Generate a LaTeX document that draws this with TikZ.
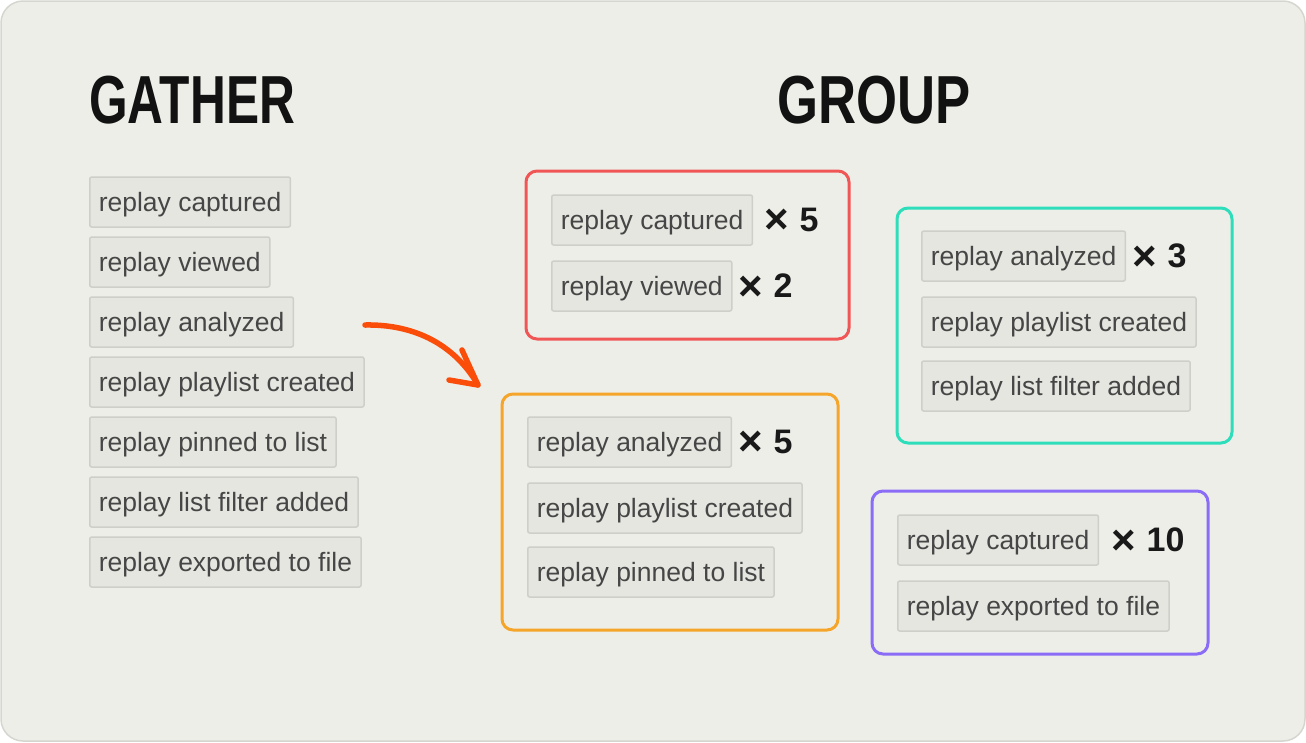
\documentclass[tikz,border=0pt]{standalone}
\usepackage{fontspec}
\setmainfont{Liberation Sans}
\definecolor{bgc}{HTML}{EEEEE9}
\definecolor{bgline}{HTML}{D6D6D0}
\definecolor{tagfill}{HTML}{E6E6E1}
\definecolor{tagline}{HTML}{CFCFCA}
\definecolor{tagtext}{HTML}{464646}
\definecolor{redc}{HTML}{F05656}
\definecolor{tealc}{HTML}{2EDDBA}
\definecolor{orangec}{HTML}{F4A52A}
\definecolor{purplec}{HTML}{8A6CF7}
\definecolor{arrowc}{HTML}{FA4D0A}
\newcommand{\timesmark}{\raisebox{-2.5pt}{\fontsize{42}{42}\selectfont\bfseries ×}\hspace*{11pt}}
\tikzset{
  tag/.style={draw=tagline, fill=tagfill, line width=1.5pt, rounded corners=2pt,
    anchor=west, minimum height=50pt, inner xsep=9pt, inner ysep=0pt,
    text height=25pt, text depth=6pt,
    text=tagtext, font=\fontsize{26.5}{26.5}\selectfont},
  mult/.style={anchor=west, inner sep=0pt, text=black!90,
    font=\fontsize{34}{34}\selectfont\bfseries},
  heading/.style={anchor=base west, inner sep=0pt, text=black!93,
    font=\fontsize{68}{68}\selectfont\bfseries},
  group/.style={line width=3pt, rounded corners=11pt},
}
\begin{document}
\begin{tikzpicture}[x=1pt,y=-1pt]
\useasboundingbox (0,0) rectangle (1306,742);
\fill[bgc, draw=bgline, line width=1.5pt, rounded corners=22pt] (1,1) rectangle (1305,741);

% headings
\node[heading] (gather) at (89,123) {\scalebox{0.73}[1]{GATHER}};
\node[heading] (grp) at (777,123) {\scalebox{0.775}[1]{GROUP}};

% left list
\node[tag] (l1) at (89,202) {replay captured};
\node[tag] (l2) at (89,262) {replay viewed};
\node[tag] (l3) at (89,322) {replay analyzed};
\node[tag] (l4) at (89,382) {replay playlist created};
\node[tag] (l5) at (89,442) {replay pinned to list};
\node[tag] (l6) at (89,502) {replay list filter added};
\node[tag] (l7) at (89,562) {replay exported to file};

% red group
\draw[group, draw=redc] (526,171) rectangle (849,339);
\node[tag] (r1) at (551,220) {replay captured};
\node[mult] (r1m) at (764,221) {\timesmark 5};
\node[tag] (r2) at (551,286) {replay viewed};
\node[mult] (r2m) at (738,287) {\timesmark 2};

% teal group
\draw[group, draw=tealc] (897,208) rectangle (1232,443);
\node[tag] (t1) at (921,256) {replay analyzed};
\node[mult] (t1m) at (1132,257) {\timesmark 3};
\node[tag] (t2) at (921,322) {replay playlist created};
\node[tag] (t3) at (921,386) {replay list filter added};

% orange group
\draw[group, draw=orangec] (502,394) rectangle (838,630);
\node[tag] (o1) at (527,442) {replay analyzed};
\node[mult] (o1m) at (738,443) {\timesmark 5};
\node[tag] (o2) at (527,508) {replay playlist created};
\node[tag] (o3) at (527,572) {replay pinned to list};

% purple group
\draw[group, draw=purplec] (872,491) rectangle (1208,654);
\node[tag] (p1) at (897,540) {replay captured};
\node[mult] (p1m) at (1111,541) {\timesmark 10};
\node[tag] (p2) at (897,606) {replay exported to file};

% arrow
\coordinate (as) at (365,325);
\coordinate (ae) at (478,385);
\coordinate (ah1) at (462,350);
\coordinate (ah2) at (449,380);
\draw[arrowc, line width=5.5pt, line cap=round, line join=round]
  (as) .. controls (415,324) and (455,345) .. (ae);
\draw[arrowc, line width=5.5pt, line cap=round, line join=round]
  (ah1) -- (ae) -- (ah2);
\end{tikzpicture}
\end{document}
